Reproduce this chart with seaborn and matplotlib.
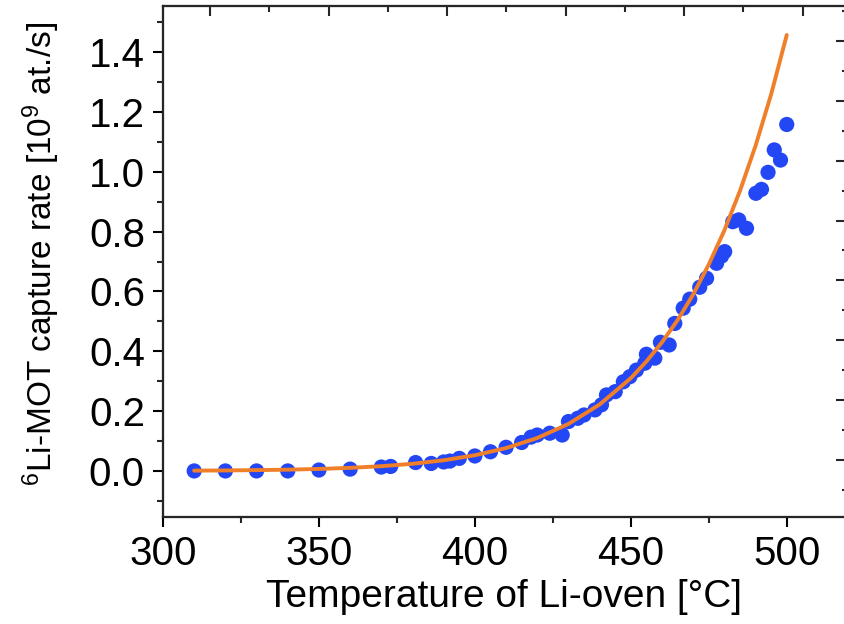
import numpy as np
import pandas as pd
import matplotlib
matplotlib.use("Agg")
import matplotlib.pyplot as plt
from matplotlib.ticker import MultipleLocator
import seaborn as sns

# measured capture rate vs oven temperature
temp_c = [310, 320, 330, 340, 350, 360, 370, 373, 381, 386, 390, 392, 395, 400,
          405, 410, 415, 418, 420, 424, 428, 430, 433, 435, 438.5, 440.6, 442.2,
          445, 447.6, 449.7, 451.8, 454.5, 455, 457.7, 459.5, 462.3, 464.1, 466.8,
          468.9, 472.1, 474.3, 477.5, 479.1, 480.1, 482.7, 484.6, 487.1, 490.1,
          491.9, 494, 496, 498, 500]
rate = [0.0, 0.0, 0.0, 0.0, 0.003, 0.006, 0.013, 0.015, 0.028, 0.025, 0.030, 0.033,
        0.042, 0.050, 0.064, 0.079, 0.095, 0.113, 0.120, 0.126, 0.120, 0.165, 0.176,
        0.187, 0.204, 0.221, 0.254, 0.265, 0.298, 0.315, 0.337, 0.360, 0.390, 0.377,
        0.430, 0.421, 0.493, 0.544, 0.574, 0.614, 0.644, 0.694, 0.718, 0.733, 0.833,
        0.839, 0.811, 0.928, 0.941, 0.998, 1.073, 1.039, 1.158]

# fit curve
fit_temp = [310, 320, 330, 340, 350, 360, 370, 380, 390, 400, 410, 420, 430, 440,
            450, 455, 460, 465, 470, 475, 480, 485, 490, 495, 500]
fit_rate = [0.001, 0.0016, 0.0027, 0.0042, 0.0067, 0.0103, 0.0158, 0.0239, 0.0356,
            0.0524, 0.0764, 0.110, 0.157, 0.222, 0.310, 0.366, 0.430, 0.504, 0.590,
            0.690, 0.804, 0.936, 1.087, 1.259, 1.457]

x_ticks = [300, 350, 400, 450, 500]
y_ticks = [0.0, 0.2, 0.4, 0.6, 0.8, 1.0, 1.2, 1.4]

sns.set_theme(style="ticks")
plt.rcParams["font.family"] = ["Liberation Sans", "DejaVu Sans"]
plt.rcParams["mathtext.fontset"] = "custom"
plt.rcParams["mathtext.rm"] = "Liberation Sans"
plt.rcParams["mathtext.it"] = "Liberation Sans"
plt.rcParams["mathtext.default"] = "regular"
plt.rcParams["text.color"] = "black"
plt.rcParams["axes.labelcolor"] = "black"

df = pd.DataFrame({"T": temp_c, "rate": rate})
fit = pd.DataFrame({"T": fit_temp, "rate": fit_rate})

fig = plt.figure(figsize=(8.45, 6.24), dpi=100)
ax = fig.add_axes([163 / 845, 1 - 517 / 624, (846 - 163) / 845, (517 - 6) / 624])

sns.scatterplot(data=df, x="T", y="rate", ax=ax, color="#2447F5", s=120,
                edgecolor="none", zorder=2)
sns.lineplot(data=fit, x="T", y="rate", ax=ax, color="#F07F2A", linewidth=2.8,
             zorder=3)

ax.set_xlim(300, 519)
ax.set_ylim(-0.154, 1.554)
ax.set_xticks(x_ticks)
ax.set_yticks(y_ticks)
ax.set_yticklabels([f"{v:.1f}" for v in y_ticks])
ax.xaxis.set_minor_locator(MultipleLocator(25))
ax.yaxis.set_minor_locator(MultipleLocator(0.1))
ax.tick_params(axis="both", which="major", labelsize=29, length=7, width=1.5,
               direction="out", colors="black", pad=6)
ax.tick_params(axis="both", which="minor", length=4, width=1.5, direction="out")

ax.set_xlabel("Temperature of Li-oven [°C]", fontsize=28, labelpad=4)
ax.set_ylabel(r"$^{6}$Li-MOT capture rate [10$^{9}$ at./s]", fontsize=24)
ax.yaxis.set_label_coords(-0.148, 0.514)
for sp in ax.spines.values():
    sp.set_linewidth(1.5)
    sp.set_color("black")
    sp.set_visible(True)

# frame ticks on top and right (other scale in the original frame)
ax_top = ax.twiny()
ax_top.set_xlim(-0.397, 5.367)
ax_top.xaxis.set_major_locator(MultipleLocator(1))
ax_top.xaxis.set_minor_locator(MultipleLocator(0.5))
ax_top.tick_params(axis="x", which="major", direction="in", length=7, width=1.5,
                   labeltop=False)
ax_top.tick_params(axis="x", which="minor", direction="in", length=4, width=1.5)

ax_r = ax.twinx()
ax_r.set_ylim(-0.191, 1.517)
ax_r.yaxis.set_major_locator(MultipleLocator(0.2))
ax_r.yaxis.set_minor_locator(MultipleLocator(0.1))
ax_r.tick_params(axis="y", which="major", direction="in", length=7, width=1.5,
                 labelright=False)
ax_r.tick_params(axis="y", which="minor", direction="in", length=3, width=1.5)
for a in (ax_top, ax_r):
    for sp in a.spines.values():
        sp.set_linewidth(1.5)

fig.savefig("out.png", dpi=100)
